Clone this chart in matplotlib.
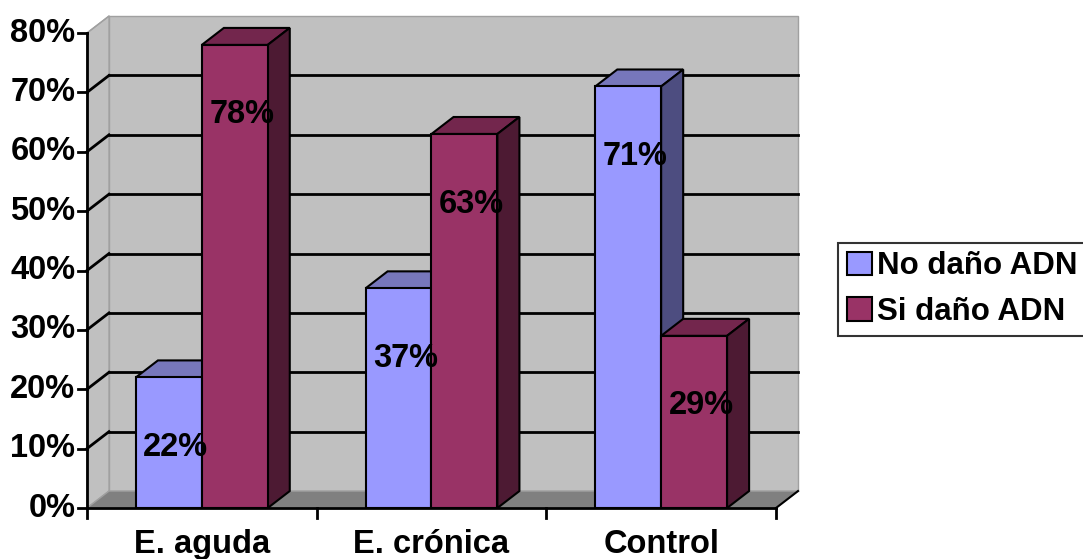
import numpy as np
import matplotlib.pyplot as plt
from matplotlib.patches import Polygon

plt.rcParams['font.family'] = ['Liberation Sans', 'DejaVu Sans']
plt.rcParams['font.weight'] = 'bold'

# datos
grupos = ['E. aguda', 'E. crónica', 'Control']
no_dano = [0.22, 0.37, 0.71]
si_dano = [0.78, 0.63, 0.29]
series = ['No daño ADN', 'Si daño ADN']
yticks = [0, 0.1, 0.2, 0.3, 0.4, 0.5, 0.6, 0.7, 0.8]

# colores (frente, tapa, lado)
col_no = ('#9999ff', '#7777bb', '#4d4d80')
col_si = ('#993366', '#73264d', '#4d1a33')

dx, dy = 0.096, 0.0286   # profundidad del efecto 3D
ancho = 0.287
fs = 23.5

fig = plt.figure(figsize=(10.83, 5.59), dpi=100)
ax = fig.add_axes([0.0803, 0.0912, 0.6362, 0.8497])
ax.set_xlim(0, len(grupos))
ax.set_ylim(0, 0.8)
ax.axis('off')

n = len(grupos)
ymax = yticks[-1]

# paredes y piso
pared = Polygon([(dx, dy), (n + dx, dy), (n + dx, ymax + dy), (dx, ymax + dy)],
                closed=True, fc='#c0c0c0', ec='#a0a0a0', lw=1, clip_on=False, zorder=0)
lado = Polygon([(0, 0), (dx, dy), (dx, ymax + dy), (0, ymax)],
               closed=True, fc='#c0c0c0', ec='#a0a0a0', lw=1, clip_on=False, zorder=0)
piso = Polygon([(0, 0), (n, 0), (n + dx, dy), (dx, dy)],
               closed=True, fc='#808080', ec='#a0a0a0', lw=1, clip_on=False, zorder=0.5)
for p in (pared, lado, piso):
    ax.add_patch(p)
ax.plot([n, n + dx], [0, dy], color='black', lw=1.5, clip_on=False, zorder=0.6)

# lineas de division
for yv in yticks[1:-1]:
    ax.plot([dx, n + dx], [yv + dy, yv + dy], color='black', lw=2, clip_on=False, zorder=0.6)
    ax.plot([0, dx], [yv, yv + dy], color='black', lw=2, clip_on=False, zorder=0.6)
ax.plot([0, dx], [ymax, ymax + dy], color='#a0a0a0', lw=1, clip_on=False, zorder=0.6)

# ejes frontales
ax.plot([0, 0], [0, ymax], color='black', lw=2, clip_on=False, zorder=5)
ax.plot([0, n], [0, 0], color='black', lw=2, clip_on=False, zorder=5)
for yv in yticks:
    ax.plot([-0.037, 0], [yv, yv], color='black', lw=2, clip_on=False, zorder=5)
    ax.text(-0.05, yv, f'{yv * 100:.0f}%', ha='right', va='center', fontsize=fs,
            fontweight='bold')
for xv in range(n + 1):
    ax.plot([xv, xv], [0, -0.017], color='black', lw=2, clip_on=False, zorder=5)
for i, g in enumerate(grupos):
    ax.text(i + 0.5, -0.061, g, ha='center', va='center', fontsize=fs, fontweight='bold')


def barra3d(x0, h, cols):
    x1 = x0 + ancho
    ax.add_patch(Polygon([(x0, h), (x1, h), (x1 + dx, h + dy), (x0 + dx, h + dy)],
                         closed=True, fc=cols[1], ec='black', lw=1.5, clip_on=False, zorder=2))
    ax.add_patch(Polygon([(x1, 0), (x1 + dx, dy), (x1 + dx, h + dy), (x1, h)],
                         closed=True, fc=cols[2], ec='black', lw=1.5, clip_on=False, zorder=2))
    ax.bar(x0, h, width=ancho, align='edge', color=cols[0], edgecolor='black',
           linewidth=1.5, zorder=2)
    ax.text(x0 + ancho / 2 + 0.03, h - 0.118, f'{h * 100:.0f}%', ha='center', va='center',
            fontsize=fs, fontweight='bold', zorder=6)


for i in range(n):
    c = i + 0.5
    barra3d(c - ancho, no_dano[i], col_no)
    barra3d(c, si_dano[i], col_si)

# leyenda
handles = [plt.Rectangle((0, 0), 1, 1, fc=col_no[0], ec='black', lw=1.5),
           plt.Rectangle((0, 0), 1, 1, fc=col_si[0], ec='black', lw=1.5)]
leg = fig.legend(handles, series, loc='upper left', bbox_to_anchor=(0.774, 0.566),
                 prop={'weight': 'bold', 'size': 22.5}, frameon=True,
                 fancybox=False, edgecolor='black', handlelength=0.8, handleheight=0.8,
                 handletextpad=0.15, borderpad=0.28, labelspacing=0.5, borderaxespad=0)
leg.get_frame().set_linewidth(1.5)

fig.savefig('out.png', dpi=100, facecolor='white')
